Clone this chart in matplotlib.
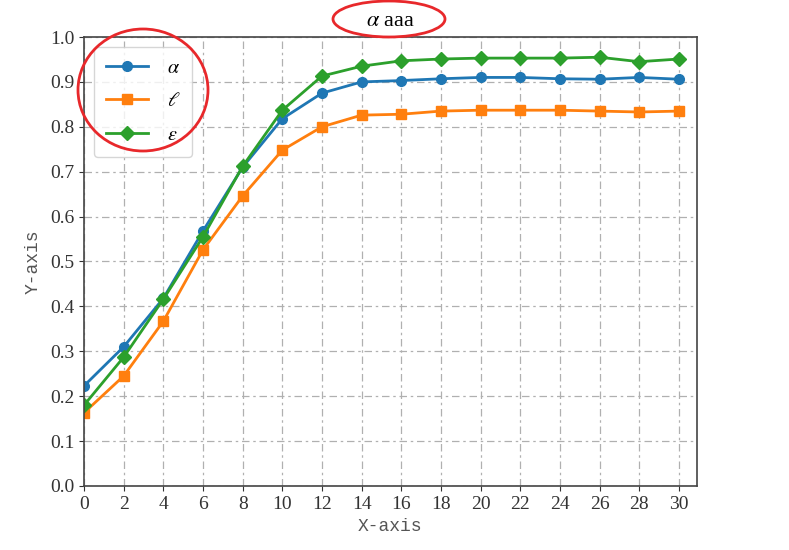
import numpy as np
import matplotlib
matplotlib.use("Agg")
import matplotlib.pyplot as plt
from matplotlib.patches import Ellipse

plt.rcParams['font.family'] = ['Liberation Serif', 'DejaVu Serif']
plt.rcParams['mathtext.fontset'] = 'stix'

x = np.arange(0, 31, 2)
alpha_vals = [0.223, 0.310, 0.418, 0.568, 0.710, 0.818, 0.875, 0.900, 0.903,
              0.907, 0.910, 0.910, 0.907, 0.906, 0.910, 0.906]
ell_vals = [0.163, 0.245, 0.367, 0.526, 0.646, 0.748, 0.800, 0.826, 0.828,
            0.835, 0.837, 0.837, 0.837, 0.835, 0.833, 0.835]
eps_vals = [0.180, 0.287, 0.416, 0.555, 0.712, 0.837, 0.913, 0.935, 0.947,
            0.951, 0.953, 0.953, 0.953, 0.955, 0.945, 0.951]
labels = [r'$\alpha$', r'$\ell$', r'$\varepsilon$']
x_ticks = np.arange(0, 31, 2)
y_ticks = np.arange(0, 1.01, 0.1)

fig = plt.figure(figsize=(7.89, 5.5), dpi=100)
ax = fig.add_axes([0.1065, 0.1164, 0.7765, 0.8163])

ax.plot(x, alpha_vals, color='#1f77b4', marker='o', markersize=7, linewidth=2, label=labels[0])
ax.plot(x, ell_vals, color='#ff7f0e', marker='s', markersize=7, linewidth=2, label=labels[1])
ax.plot(x, eps_vals, color='#2ca02c', marker='D', markersize=7, linewidth=2, label=labels[2])

ax.set_xlim(0, 30.9)
ax.set_ylim(0, 1.0)
ax.set_xticks(x_ticks)
ax.set_yticks(y_ticks)
ax.set_yticklabels([f"{v:.1f}" for v in y_ticks])
ax.tick_params(labelsize=14, colors='#333333')
ax.grid(True, linestyle=(0, (6, 3, 2, 3)), color='#b0b0b0', linewidth=0.9)
for s in ax.spines.values():
    s.set_color('#444444')
    s.set_linewidth(1.2)

ax.set_xlabel('X-axis', fontsize=13, color='#555555', family='Liberation Mono', labelpad=4)
ax.set_ylabel('Y-axis', fontsize=13, color='#555555', family='Liberation Mono', labelpad=6)
ax.set_title(r'$\alpha$ aaa', fontsize=16, pad=8)

leg = ax.legend(loc='upper left', fontsize=14.5, handlelength=2.1, borderpad=0.6,
                labelspacing=0.7, handletextpad=0.9)

# red annotation ellipses
fig.add_artist(Ellipse((389 / 789, 1 - 19 / 550), 112 / 789, 36 / 550,
                       transform=fig.transFigure, fill=False, edgecolor='#e8282b', linewidth=2))
fig.add_artist(Ellipse((143 / 789, 1 - 90 / 550), 130 / 789, 122 / 550,
                       transform=fig.transFigure, fill=False, edgecolor='#e8282b', linewidth=2))

fig.savefig('out.png', dpi=100)
